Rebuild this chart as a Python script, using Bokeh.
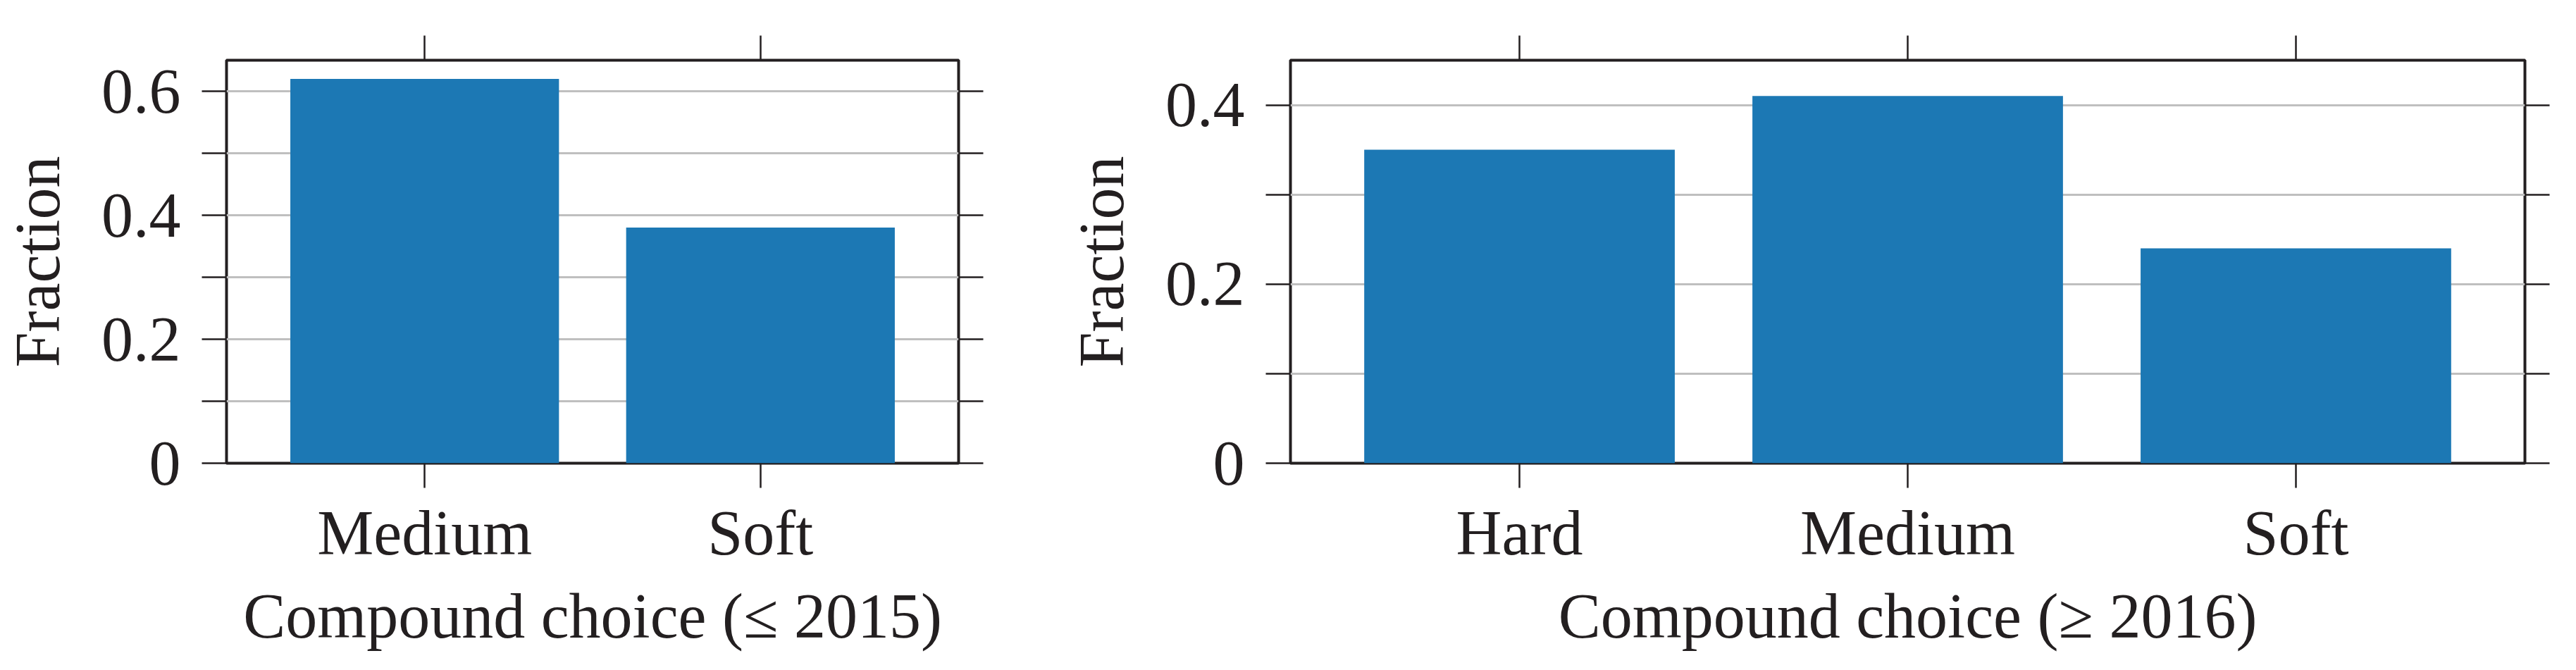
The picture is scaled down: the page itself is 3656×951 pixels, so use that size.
from bokeh.plotting import figure
from bokeh.models import (Range1d, FixedTicker, LinearAxis, ColumnDataSource,
                          CustomLabelingPolicy)
from bokeh.layouts import row
from bokeh.embed import file_html
from bokeh.resources import INLINE

# ---- data ----
left_categories = ["Medium", "Soft"]
left_fractions = [0.62, 0.38]
right_categories = ["Hard", "Medium", "Soft"]
right_fractions = [0.35, 0.41, 0.24]

left_y_ticks = [0, 0.2, 0.4, 0.6]
left_y_minor = [0.1, 0.3, 0.5]
left_y_labels = ["0", "0.2", "0.4", "0.6"]
right_y_ticks = [0, 0.2, 0.4]
right_y_minor = [0.1, 0.3]
right_y_labels = ["0", "0.2", "0.4"]

left_xlabel = "Compound choice (\u2264 2015)"
right_xlabel = "Compound choice (\u2265 2016)"
y_title = "Fraction"

FONT = "Liberation Serif"
FS = "90px"
INK = "#231f20"
BAR = "#1c78b4"
GRID = "#bfbfbf"

HIDE_ALL = CustomLabelingPolicy(code="""
    for (const i of indices) { indices.unset(i) }
    return indices
""")


def style_axis(ax, visible_labels=True):
    ax.axis_line_color = None
    ax.major_tick_in = 0
    ax.major_tick_out = 35
    ax.minor_tick_in = 0
    ax.minor_tick_out = 35
    ax.major_tick_line_color = INK
    ax.minor_tick_line_color = INK
    ax.major_tick_line_width = 2.5
    ax.minor_tick_line_width = 2.5
    ax.major_label_text_font = FONT
    ax.major_label_text_color = INK
    ax.axis_label_text_font = FONT
    ax.axis_label_text_font_style = "normal"
    ax.axis_label_text_color = INK
    ax.axis_label_text_font_size = FS
    if visible_labels:
        ax.major_label_text_font_size = FS
    else:
        ax.major_label_text_font_size = "10px"
        ax.major_label_standoff = 0
        ax.major_label_policy = HIDE_ALL


def panel(categories, fractions, yticks, yminor, ylabels, ymax, xlabel,
          width, border_left, border_right):
    n = len(categories)
    xs = list(range(n))
    src = ColumnDataSource(dict(x=xs, top=fractions, cat=categories))
    p = figure(width=width, height=943, output_backend="svg",
               toolbar_location=None,
               x_range=Range1d(-0.59, n - 1 + 0.59),
               y_range=Range1d(0, ymax),
               min_border_left=border_left, min_border_right=border_right,
               min_border_top=85, min_border_bottom=286)
    p.background_fill_color = "white"
    p.border_fill_color = "white"
    p.outline_line_color = INK
    p.outline_line_width = 4
    p.outline_line_alpha = 1

    xt = FixedTicker(ticks=xs, minor_ticks=[])
    yt = FixedTicker(ticks=yticks, minor_ticks=yminor)

    p.vbar(x="x", top="top", bottom=0, width=0.8, source=src,
           fill_color=BAR, line_color=None)

    xa = p.xaxis[0]
    xa.ticker = xt
    xa.major_label_overrides = {x: c for x, c in zip(xs, categories)}
    xa.axis_label = xlabel
    style_axis(xa)
    xa.major_label_standoff = 14
    xa.axis_label_standoff = 16

    ya = p.yaxis[0]
    ya.ticker = yt
    ya.major_label_overrides = {t: l for t, l in zip(yticks, ylabels)}
    ya.axis_label = y_title
    style_axis(ya)
    ya.major_label_standoff = 30
    ya.axis_label_standoff = 38

    top_ax = LinearAxis(ticker=xt)
    style_axis(top_ax, visible_labels=False)
    p.add_layout(top_ax, "above")
    right_ax = LinearAxis(ticker=yt)
    style_axis(right_ax, visible_labels=False)
    p.add_layout(right_ax, "right")

    p.xgrid.visible = False
    p.ygrid.ticker = yt
    p.ygrid.grid_line_color = GRID
    p.ygrid.grid_line_width = 3
    p.ygrid.minor_grid_line_color = GRID
    p.ygrid.minor_grid_line_width = 3
    return p


p1 = panel(left_categories, left_fractions, left_y_ticks, left_y_minor,
           left_y_labels, 0.65, left_xlabel, 1420, 315, 60)
p2 = panel(right_categories, right_fractions, right_y_ticks, right_y_minor,
           right_y_labels, 0.45, right_xlabel, 2228, 411, 65)

layout = row(p1, p2, spacing=0)
open("out.html", "w").write(file_html(layout, INLINE))
